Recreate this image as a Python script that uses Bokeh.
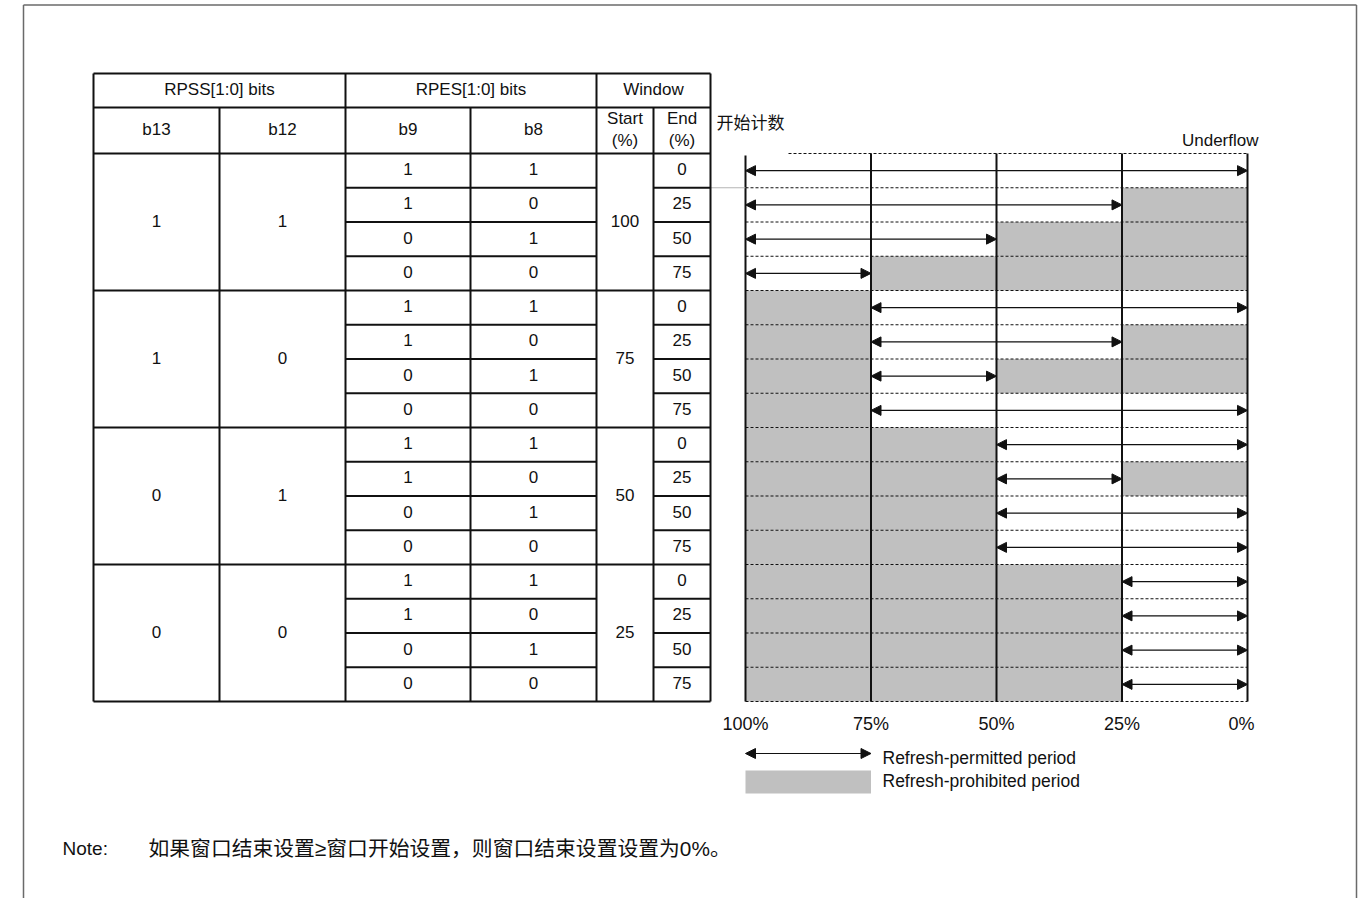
from bokeh.plotting import figure
from bokeh.models import Range1d, ColumnDataSource, Arrow, NormalHead
from bokeh.embed import file_html
from bokeh.resources import INLINE
from bokeh.core.properties import value

# ---------------- data ----------------
rpss_b13 = [1, 1, 0, 0]
rpss_b12 = [1, 0, 1, 0]
window_start = [100, 75, 50, 25]
rpes_b9 = [1, 1, 0, 0]
rpes_b8 = [1, 0, 1, 0]
window_end = [0, 25, 50, 75]
axis_ticks = [100, 75, 50, 25, 0]
axis_labels = ["100%", "75%", "50%", "25%", "0%"]
header_top = ["RPSS[1:0] bits", "RPES[1:0] bits", "Window"]
header_bits = ["b13", "b12", "b9", "b8"]
legend_labels = ["Refresh-permitted period", "Refresh-prohibited period"]
note_label = "Note:"
note_text = "如果窗口结束设置≥窗口开始设置，则窗口结束设置设置为0%。"
count_label = "开始计数"
underflow_label = "Underflow"

# ---------------- layout ----------------
W, H = 1370, 898
LEFT, TOP = 0, 0
COLS = [93, 219, 345, 470, 596, 653, 710]
Y_TOP, Y_HDR1, Y_HDR2 = 73, 107, 153
ROW_H = 34.25
X100, X0 = 745, 1247
FONT = value("Liberation Sans")
CJK = value("Noto Sans CJK SC")
MIX = value("Liberation Sans, Noto Sans CJK SC")
INK = "#111111"
GRAY = "#c0c0c0"

def pct_of(x):
    return (X0 - x) / (X0 - X100) * 100.0

def row_of(y):
    return (y - Y_HDR2) / ROW_H

p = figure(width=W, height=H, x_range=Range1d(LEFT, LEFT + W),
           y_range=Range1d(TOP + H, TOP), output_backend="svg",
           toolbar_location=None, min_border=0, outline_line_color=None,
           x_axis_location=None, y_axis_location=None)
p.grid.visible = False
p.extra_x_ranges = {"pct": Range1d(pct_of(LEFT), pct_of(LEFT + W))}
p.extra_y_ranges = {"row": Range1d(row_of(TOP + H), row_of(TOP))}

# ---------------- derived rows ----------------
rows, starts, ends, effs, b9s, b8s = [], [], [], [], [], []
for g, s in enumerate(window_start):
    for j, e in enumerate(window_end):
        rows.append(4 * g + j)
        starts.append(s)
        ends.append(e)
        effs.append(e if e < s else 0)
        b9s.append(rpes_b9[j])
        b8s.append(rpes_b8[j])
n_rows = len(rows)

# ---------------- outer frame ----------------
p.segment(x0=[23, 1356, 23], y0=[TOP + H, TOP + H, 4.5], x1=[23, 1356, 1356],
          y1=[4.5, 4.5, 4.5], line_color="#6a6a6a", line_width=1.5)

# ---------------- chart: prohibited areas ----------------
gl = [(100, s, r) for r, s in zip(rows, starts) if s < 100]
gr = [(e, 0, r) for r, e in zip(rows, effs) if e > 0]
allq = gl + gr
p.quad(left=[a for a, b, r in allq], right=[b for a, b, r in allq],
       top=[r for a, b, r in allq], bottom=[r + 1 for a, b, r in allq],
       x_range_name="pct", y_range_name="row", fill_color=GRAY, line_color=None)

# dashed row separators
sep_rows = list(range(n_rows + 1))
sep_x0 = [pct_of(788) if r == 0 else 100 for r in sep_rows]
p.segment(x0=sep_x0, y0=sep_rows, x1=[0] * len(sep_rows), y1=sep_rows,
          x_range_name="pct", y_range_name="row", line_color=INK,
          line_width=1, line_dash="3 2")

# vertical lines
p.segment(x0=axis_ticks, y0=[row_of(155)] + [0] * 4, x1=axis_ticks,
          y1=[n_rows] * 5, x_range_name="pct", y_range_name="row",
          line_color=INK, line_width=2)

# faint leader line from table
p.segment(x0=[COLS[-1]], y0=[Y_HDR2 + ROW_H], x1=[X100], y1=[Y_HDR2 + ROW_H],
          line_color="#b5b5b5", line_width=1)

# permitted arrows
HEAD = dict(size=10, fill_color=INK, line_color=INK)
asrc = ColumnDataSource(dict(xs=starts, xe=effs, y=[r + 0.5 for r in rows]))
p.add_layout(Arrow(start=NormalHead(**HEAD), end=NormalHead(**HEAD),
                   x_start="xs", y_start="y", x_end="xe", y_end="y",
                   source=asrc, line_color=INK, line_width=1.1,
                   x_range_name="pct", y_range_name="row"))

# axis labels
p.text(x=axis_ticks[:4], y=[723] * 4, text=axis_labels[:4], x_range_name="pct",
       text_font=FONT, text_font_size="18px", text_align="center",
       text_baseline="middle", text_color=INK)
p.text(x=axis_ticks[4:], y=[723], text=axis_labels[4:], x_range_name="pct",
       text_font=FONT, text_font_size="18px", text_align="center",
       text_baseline="middle", text_color=INK, x_offset=-6)

# chart titles
p.text(x=[716], y=[121], text=[count_label], text_font=CJK,
       text_font_size="17px", text_align="left", text_baseline="middle",
       text_color=INK)
p.text(x=[1258], y=[140], text=[underflow_label], text_font=FONT,
       text_font_size="17px", text_align="right", text_baseline="middle",
       text_color=INK)

# legend
lsrc = ColumnDataSource(dict(xs=[100], xe=[75], y=[753]))
p.add_layout(Arrow(start=NormalHead(**HEAD), end=NormalHead(**HEAD),
                   x_start="xs", y_start="y", x_end="xe", y_end="y",
                   source=lsrc, line_color=INK, line_width=1.1,
                   x_range_name="pct"))
p.quad(left=[100], right=[75], top=[770], bottom=[793], x_range_name="pct",
       fill_color=GRAY, line_color=None)
p.text(x=[882, 882], y=[757, 780], text=legend_labels, text_font=FONT,
       text_font_size="17.5px", text_align="left", text_baseline="middle",
       text_color=INK)

# note
p.text(x=[62], y=[848], text=[note_label], text_font=FONT,
       text_font_size="19px", text_align="left", text_baseline="middle",
       text_color=INK)
p.text(x=[148], y=[848], text=[note_text], text_font=MIX,
       text_font_size="20.8px", text_align="left", text_baseline="middle",
       text_color=INK)

# ---------------- table lines ----------------
hx0 = [COLS[0]] * 3
hx1 = [COLS[-1]] * 3
hy = [Y_TOP, Y_HDR1, Y_HDR2]
p.segment(x0=hx0, y0=hy, x1=hx1, y1=hy, line_color=INK, line_width=2)
full_r = [r for r in range(1, n_rows + 1) if r % 4 == 0]
p.segment(x0=[COLS[0]] * len(full_r), y0=full_r, x1=[COLS[-1]] * len(full_r),
          y1=full_r, y_range_name="row", line_color=INK, line_width=2)
part_r = [r for r in range(1, n_rows) if r % 4 != 0]
p.segment(x0=[COLS[2]] * len(part_r) + [COLS[5]] * len(part_r), y0=part_r * 2,
          x1=[COLS[4]] * len(part_r) + [COLS[6]] * len(part_r), y1=part_r * 2,
          y_range_name="row", line_color=INK, line_width=2)
y_bot = Y_HDR2 + n_rows * ROW_H
vx_full = [COLS[0], COLS[2], COLS[4], COLS[6]]
vx_part = [COLS[1], COLS[3], COLS[5]]
p.segment(x0=vx_full + vx_part, y0=[Y_TOP] * 4 + [Y_HDR1] * 3,
          x1=vx_full + vx_part, y1=[y_bot] * 7, line_color=INK, line_width=2)

# ---------------- table text ----------------
def cx(i):
    return (COLS[i] + COLS[i + 1]) / 2

tk = dict(text_font=FONT, text_font_size="17px", text_align="center",
          text_baseline="middle", text_color=INK, y_offset=-1.5)
p.text(x=[(COLS[0] + COLS[2]) / 2, (COLS[2] + COLS[4]) / 2, (COLS[4] + COLS[6]) / 2],
       y=[(Y_TOP + Y_HDR1) / 2] * 3, text=header_top, **tk)
p.text(x=[cx(0), cx(1), cx(2), cx(3)], y=[(Y_HDR1 + Y_HDR2) / 2] * 4,
       text=header_bits, **tk)
p.text(x=[cx(4), cx(5)], y=[119, 119], text=["Start", "End"], **tk)
p.text(x=[cx(4), cx(5)], y=[141, 141], text=["(%)", "(%)"], **tk)

yc = [r + 0.5 for r in rows]
p.text(x=[cx(2)] * n_rows, y=yc, text=[str(v) for v in b9s], y_range_name="row", **tk)
p.text(x=[cx(3)] * n_rows, y=yc, text=[str(v) for v in b8s], y_range_name="row", **tk)
p.text(x=[cx(5)] * n_rows, y=yc, text=[str(v) for v in ends], y_range_name="row", **tk)
gy = [4 * g + 2 for g in range(len(window_start))]
p.text(x=[cx(0)] * 4, y=gy, text=[str(v) for v in rpss_b13], y_range_name="row", **tk)
p.text(x=[cx(1)] * 4, y=gy, text=[str(v) for v in rpss_b12], y_range_name="row", **tk)
p.text(x=[cx(4)] * 4, y=gy, text=[str(v) for v in window_start], y_range_name="row", **tk)

open("out.html", "w").write(file_html(p, INLINE))
